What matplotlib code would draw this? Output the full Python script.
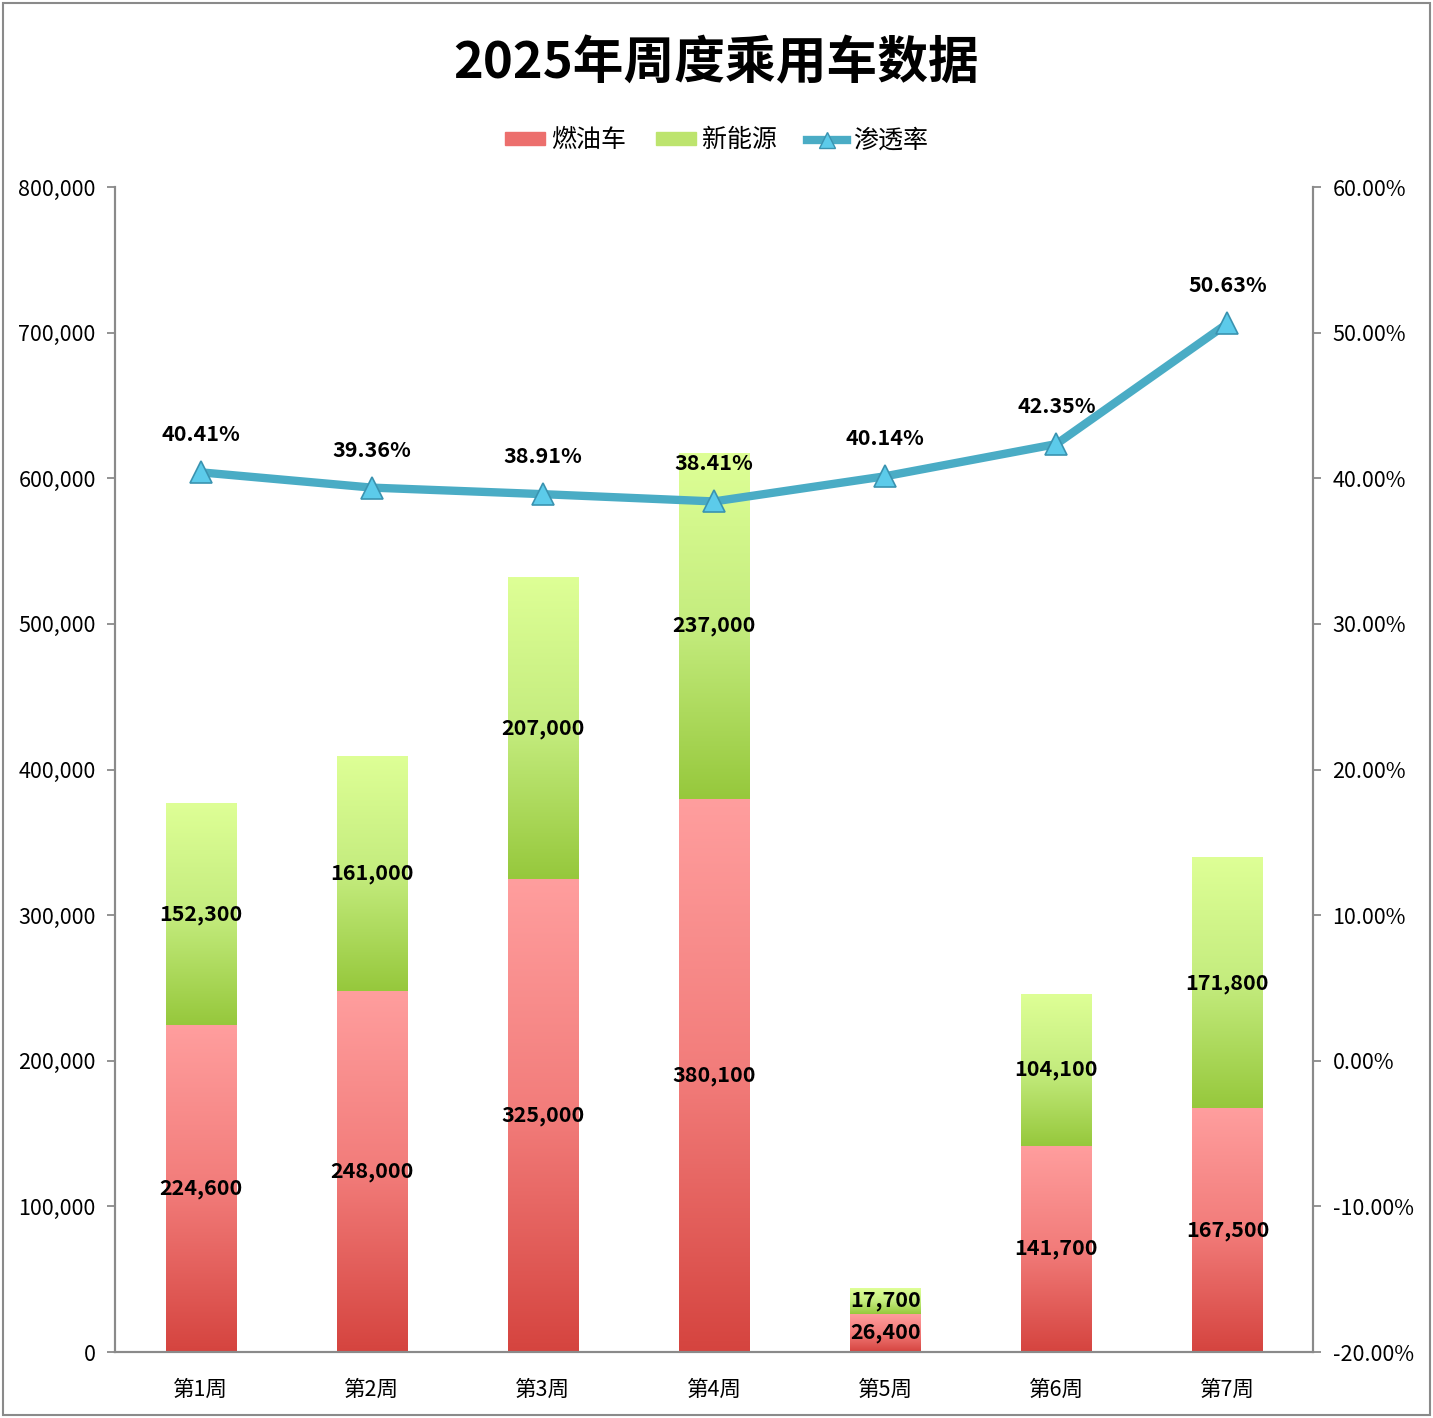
import matplotlib
matplotlib.use("Agg")
import matplotlib.pyplot as plt
import matplotlib.patches as mpatches
from matplotlib.colors import LinearSegmentedColormap
from matplotlib.lines import Line2D
from matplotlib.ticker import FuncFormatter
import numpy as np

plt.rcParams['font.family'] = ['Noto Sans CJK SC', 'DejaVu Sans']

weeks = ["第1周", "第2周", "第3周", "第4周", "第5周", "第6周", "第7周"]
fuel = [224600, 248000, 325000, 380100, 26400, 141700, 167500]
nev = [152300, 161000, 207000, 237000, 17700, 104100, 171800]
rate = [40.41, 39.36, 38.91, 38.41, 40.14, 42.35, 50.63]

red_cmap = LinearSegmentedColormap.from_list("red", ["#d5443f", "#f27c7a", "#ff9e9e"])
green_cmap = LinearSegmentedColormap.from_list("green", ["#96c83c", "#c4ec7e", "#deff96"])
grad = np.linspace(0, 1, 256).reshape(-1, 1)

fig = plt.figure(figsize=(14.33, 14.18), dpi=100)
ax = fig.add_axes([0.0803, 0.0465, 0.8360, 0.8216])
x = np.arange(len(weeks))

b1 = ax.bar(x, fuel, width=0.41, color="none", edgecolor="none")
b2 = ax.bar(x, nev, width=0.41, bottom=fuel, color="none", edgecolor="none")

def fill_gradient(bars, cmap):
    for b in bars:
        x0, y0 = b.get_x(), b.get_y()
        ax.imshow(grad, cmap=cmap, origin="lower", aspect="auto", zorder=2,
                  extent=(x0, x0 + b.get_width(), y0, y0 + b.get_height()))

fill_gradient(b1, red_cmap)
fill_gradient(b2, green_cmap)

for i in range(len(weeks)):
    ax.text(x[i], fuel[i] / 2, f"{fuel[i]:,}", ha="center", va="center",
            fontsize=15.5, fontweight="bold", zorder=5)
    ax.text(x[i], fuel[i] + nev[i] / 2, f"{nev[i]:,}", ha="center", va="center",
            fontsize=15.5, fontweight="bold", zorder=5)

ax.set_xlim(-0.5, len(weeks) - 0.5)
ax.set_ylim(0, 800000)
ax.set_yticks(np.arange(0, 800001, 100000))
ax.yaxis.set_major_formatter(FuncFormatter(lambda v, p: f"{int(v):,}"))
ax.set_xticks(x)
ax.set_xticklabels(weeks)

ax2 = ax.twinx()
ax2.set_ylim(-20, 60)
ax2.set_yticks(np.arange(-20, 61, 10))
ax2.yaxis.set_major_formatter(FuncFormatter(lambda v, p: f"{v:.2f}%"))
ax2.plot(x, rate, color="#4aacc5", lw=6, marker="^", markersize=16,
         markerfacecolor="#5ccbea", markeredgecolor="#3a93b0", markeredgewidth=1.2,
         zorder=4, solid_capstyle="round")
for i in range(len(weeks)):
    ax2.annotate(f"{rate[i]:.2f}%", (x[i], rate[i]), xytext=(0, 27),
                 textcoords="offset points", ha="center", va="center",
                 fontsize=15.5, fontweight="bold")

for a in (ax, ax2):
    for s in a.spines.values():
        s.set_color("#8a8a8a")
        s.set_linewidth(1.5)
    a.spines["top"].set_visible(False)
    a.tick_params(axis="both", colors="#8a8a8a", labelcolor="black",
                  labelsize=15.5, length=6, width=1.3, direction="out")
ax.tick_params(axis="x", length=0, pad=19)
ax2.tick_params(axis="y", pad=8)
ax.tick_params(axis="y", pad=8)

fig.text(0.5, 0.955, "2025年周度乘用车数据", ha="center", va="center",
         fontsize=36.5, fontweight="bold")

handles = [mpatches.Patch(color="#ec6f6d"), mpatches.Patch(color="#bde46e"),
           Line2D([], [], color="#4aacc5", lw=6, marker="^", markersize=11,
                  markerfacecolor="#5ccbea", markeredgecolor="#3a93b0")]
fig.legend(handles, ["燃油车", "新能源", "渗透率"], loc="center",
           bbox_to_anchor=(0.5, 0.901), ncol=3, frameon=False, fontsize=18,
           handlelength=1.6, handleheight=0.4, columnspacing=1.2, handletextpad=0.25)

fig.add_artist(mpatches.Rectangle((0.002, 0.002), 0.996, 0.996, transform=fig.transFigure,
                                  fill=False, edgecolor="#8a8a8a", lw=1.5))

fig.savefig("out.png", dpi=100)
